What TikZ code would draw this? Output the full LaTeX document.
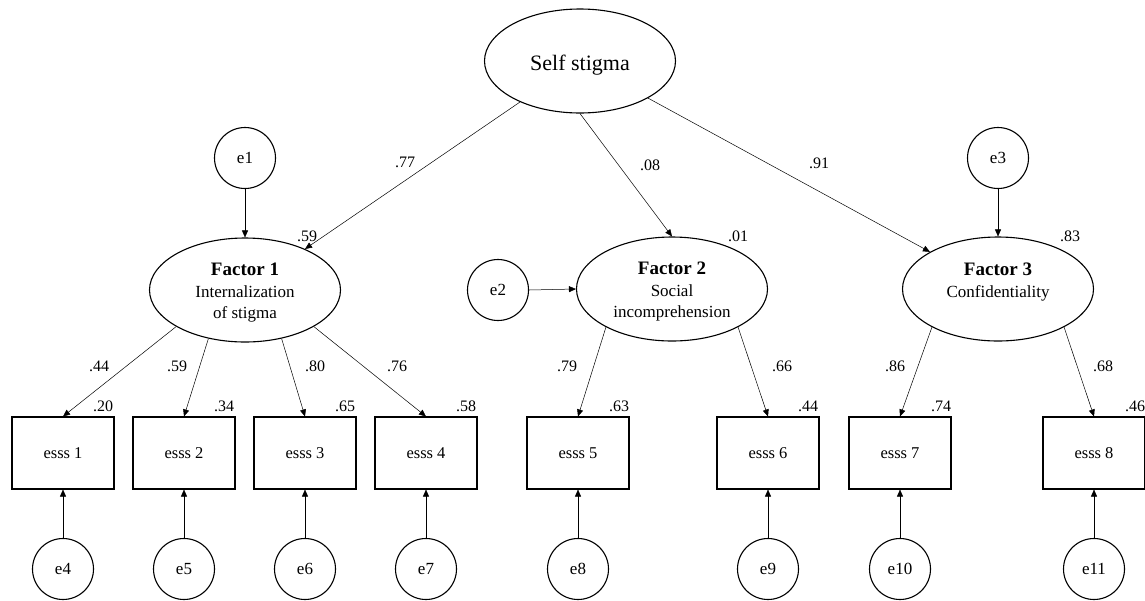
\documentclass[tikz,border=0pt]{standalone}
\usepackage{fontspec}
\setmainfont{Liberation Serif}
\usetikzlibrary{arrows.meta,shapes.geometric}
\begin{document}
\begin{tikzpicture}[x=1pt,y=-1pt,
 lat/.style={draw,ellipse,line width=1.1pt,minimum width=191pt,minimum height=104pt,inner sep=0pt},
 ltxt/.style={inner sep=0pt,align=center,font=\fontsize{17}{21.5}\selectfont},
 err/.style={draw,circle,line width=1.1pt,minimum size=61pt,inner sep=0pt,font=\fontsize{17}{20}\selectfont},
 obs/.style={draw,rectangle,line width=1.1pt,minimum width=102pt,minimum height=72pt,inner sep=0pt,font=\fontsize{16.5}{20}\selectfont},
 lab/.style={inner sep=0pt,font=\fontsize{16}{19}\selectfont},
 arr/.style={-{Triangle[length=7pt,width=6pt]},line width=0.5pt},
]
\useasboundingbox (0,0) rectangle (1145,600);
% latent variables
\node[lat] (self) at (580,61) {};
\node[ltxt,font=\fontsize{22}{26}\selectfont] (tself) at ([yshift=-4pt]self.center) {Self stigma};
\node[lat] (f1) at (245,290) {};
\node[ltxt] (t1) at ([yshift=-3pt]f1.center) {{\fontsize{19}{21.5}\selectfont\bfseries Factor 1}\\Internalization\\of stigma};
\node[lat] (f2) at (672,289) {};
\node[ltxt] (t2) at ([yshift=-3pt]f2.center) {{\fontsize{19}{21.5}\selectfont\bfseries Factor 2}\\Social\\incomprehension};
\node[lat] (f3) at (998,289) {};
\node[ltxt] (t3) at ([yshift=-4pt]f3.center) {{\fontsize{19}{21.5}\selectfont\bfseries Factor 3}\\Confidentiality\\\vphantom{g}};
% disturbances
\node[err] (e1) at (245,158) {e1};
\node[err] (e2) at (498,290) {e2};
\node[err] (e3) at (998,158) {e3};
% observed
\node[obs] (b1) at (63,453) {esss 1};
\node[obs] (b2) at (184,453) {esss 2};
\node[obs] (b3) at (305,453) {esss 3};
\node[obs] (b4) at (426,453) {esss 4};
\node[obs] (b5) at (578,453) {esss 5};
\node[obs] (b6) at (768,453) {esss 6};
\node[obs] (b7) at (900,453) {esss 7};
\node[obs] (b8) at (1094,453) {esss 8};
% errors
\node[err] (e4) at (63,569) {e4};
\node[err] (e5) at (184,569) {e5};
\node[err] (e6) at (305,569) {e6};
\node[err] (e7) at (426,569) {e7};
\node[err] (e8) at (578,569) {e8};
\node[err] (e9) at (768,569) {e9};
\node[err] (e10) at (900,569) {e10};
\node[err] (e11) at (1094,569) {e11};
% structural paths
\draw[arr] (self) -- (f1);
\draw[arr] (self.south) -- (f2.north);
\draw[arr] (self) -- (f3);
\draw[arr] (e1.south) -- (f1.north);
\draw[arr] (e2.east) -- (f2.west);
\draw[arr] (e3.south) -- (f3.north);
% loadings
\draw[arr] (f1.-152) -- (b1.north);
\draw[arr] (f1.-127) -- (b2.north);
\draw[arr] (f1.-53) -- (b3.north);
\draw[arr] (f1.-28) -- (b4.north);
\draw[arr] (f2.-150) -- (b5.north);
\draw[arr] (f2.-30) -- (b6.north);
\draw[arr] (f3.-150) -- (b7.north);
\draw[arr] (f3.-30) -- (b8.north);
% measurement errors
\foreach \e/\b in {e4/b1,e5/b2,e6/b3,e7/b4,e8/b5,e9/b6,e10/b7,e11/b8}
  \draw[arr] (\e.north) -- (\b.south);
% labels
\node[lab] (l1) at (405,162) {.77};
\node[lab] (l2) at (650,165) {.08};
\node[lab] (l3) at (819,163) {.91};
\node[lab] (l4) at (307,236) {.59};
\node[lab] (l5) at (738,236) {.01};
\node[lab] (l6) at (1070,236) {.83};
\node[lab] (l7) at (99,366) {.44};
\node[lab] (l8) at (177,366) {.59};
\node[lab] (l9) at (315,366) {.80};
\node[lab] (l10) at (397,366) {.76};
\node[lab] (l11) at (567,366) {.79};
\node[lab] (l12) at (782,366) {.66};
\node[lab] (l13) at (895,366) {.86};
\node[lab] (l14) at (1103,366) {.68};
\node[lab] (l15) at (103,406) {.20};
\node[lab] (l16) at (224,406) {.34};
\node[lab] (l17) at (345,406) {.65};
\node[lab] (l18) at (466,406) {.58};
\node[lab] (l19) at (619,406) {.63};
\node[lab] (l20) at (808,406) {.44};
\node[lab] (l21) at (941,406) {.74};
\node[lab] (l22) at (1135,406) {.46};
\end{tikzpicture}
\end{document}
